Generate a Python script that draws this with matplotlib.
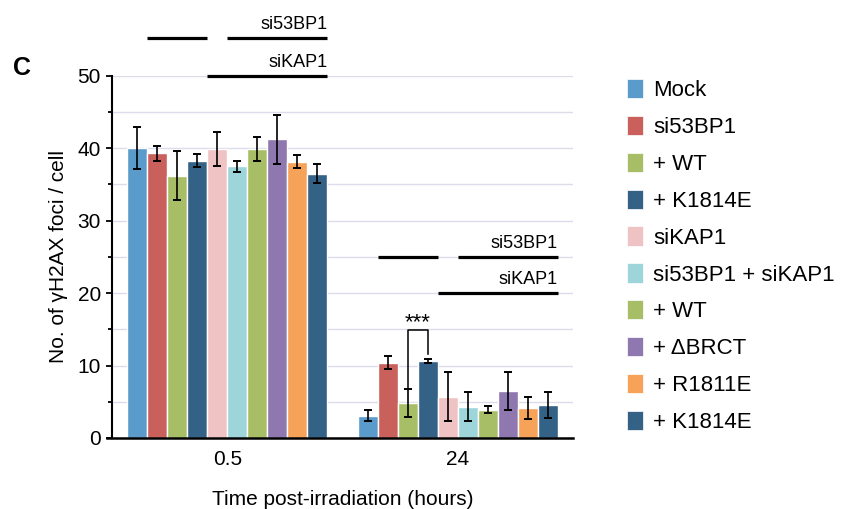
import numpy as np
import matplotlib
matplotlib.use('Agg')
import matplotlib.pyplot as plt
from matplotlib.patches import Patch

plt.rcParams['font.family'] = ['Liberation Sans', 'DejaVu Sans']

# Data
groups = ['0.5', '24']
labels = ['Mock', 'si53BP1', '+ WT', '+ K1814E', 'siKAP1', 'si53BP1 + siKAP1',
    '+ WT', '+ \u0394BRCT', '+ R1811E', '+ K1814E']
mean_05 = [40.0, 39.3, 36.2, 38.3, 39.9, 37.5, 39.9, 41.2, 38.1, 36.5]
err_05 = [2.9, 1.0, 3.4, 0.9, 2.3, 0.8, 1.7, 3.4, 0.9, 1.3]
mean_24 = [3.1, 10.4, 4.8, 10.6, 5.7, 4.3, 3.9, 6.5, 4.1, 4.5]
err_24 = [0.8, 0.9, 1.9, 0.3, 3.4, 2.0, 0.5, 2.6, 1.5, 1.8]
colors = ['#5B9BCB', '#C9605C', '#A8BE66', '#346186', '#EFC3C4', '#9DD5DB',
    '#A8BE66', '#8F77AF', '#F6A258', '#346186']

# annotation lines: (first bar, last bar, height, text)
lines_05 = [(1, 3, 55.2, ''), (5, 9, 55.2, 'si53BP1'), (4, 9, 50, 'siKAP1')]
lines_24 = [(1, 3, 25, ''), (5, 9, 25, 'si53BP1'), (4, 9, 20, 'siKAP1')]
#-------------------------------------------------------------------------------

fig = plt.figure(figsize=(8.45, 5.09), dpi=100)
ax = fig.add_axes([0.1325, 0.1395, 0.5456, 0.7117])

w = 20 / 230
n = len(labels)
for g, (means, errs) in enumerate([(mean_05, err_05), (mean_24, err_24)]):
    x = g + (np.arange(n) - (n - 1) / 2) * w
    ax.bar(x, means, width=w, color=colors, edgecolor='white', linewidth=1,
        zorder=2)
    ax.errorbar(x, means, yerr=errs, fmt='none', ecolor='black',
        elinewidth=1.2, capsize=3.2, capthick=1.4, zorder=3)

for g, lines in enumerate([lines_05, lines_24]):
    for i0, i1, h, txt in lines:
        x0 = g + (i0 - (n - 1) / 2) * w - w / 2
        x1 = g + (i1 - (n - 1) / 2) * w + w / 2
        ax.plot([x0, x1], [h, h], color='black', lw=2.3, clip_on=False,
            solid_capstyle='butt', zorder=4)
        if txt:
            ax.text(x1, h + 0.7, txt, ha='right', va='bottom', fontsize=13,
                clip_on=False)

# significance bracket (24 h, + WT vs + K1814E)
xa = 1 + (2 - (n - 1) / 2) * w
xb = 1 + (3 - (n - 1) / 2) * w
ax.plot([xa, xa, xb, xb], [6.9, 14.9, 14.9, 11.6], color='black', lw=1.1,
    zorder=4)
ax.text((xa + xb) / 2, 14.4, '***', ha='center', va='bottom', fontsize=16)

ax.set_xlim(-0.5, 1.5)
ax.set_ylim(0, 50)
ax.set_xticks([0, 1])
ax.set_xticklabels(groups)
ax.set_yticks(np.arange(0, 51, 10))
ax.set_yticks(np.arange(5, 50, 10), minor=True)
ax.tick_params(axis='x', length=0, pad=9, labelsize=15)
ax.tick_params(axis='y', which='major', length=4, width=1.3, pad=4,
    labelsize=15)
ax.tick_params(axis='y', which='minor', length=3, width=1.3)
ax.yaxis.grid(True, which='both', color='#DCDCEC', lw=1, zorder=0)
ax.set_axisbelow(True)
for s in ['top', 'right']:
    ax.spines[s].set_visible(False)
ax.spines['left'].set_linewidth(1.5)
ax.spines['bottom'].set_linewidth(1.8)
ax.spines['bottom'].set_bounds(-0.5 - 5 / 230, 1.5)

ax.set_xlabel('Time post-irradiation (hours)', fontsize=15, labelpad=15)
ax.set_ylabel('No. of \u03b3H2AX foci / cell', fontsize=15, labelpad=7)

handles = [Patch(facecolor=c, edgecolor='white', linewidth=0.5) for c in colors]
fig.legend(handles, labels, loc='upper left', bbox_to_anchor=(0.742, 0.845),
    frameon=False, fontsize=16, handlelength=0.72, handleheight=0.95,
    handletextpad=0.45, labelspacing=0.66, borderpad=0, borderaxespad=0)

fig.text(0.015, 0.866, 'C', fontsize=18, fontweight='bold', va='center')

fig.savefig('out.png', dpi=100)
